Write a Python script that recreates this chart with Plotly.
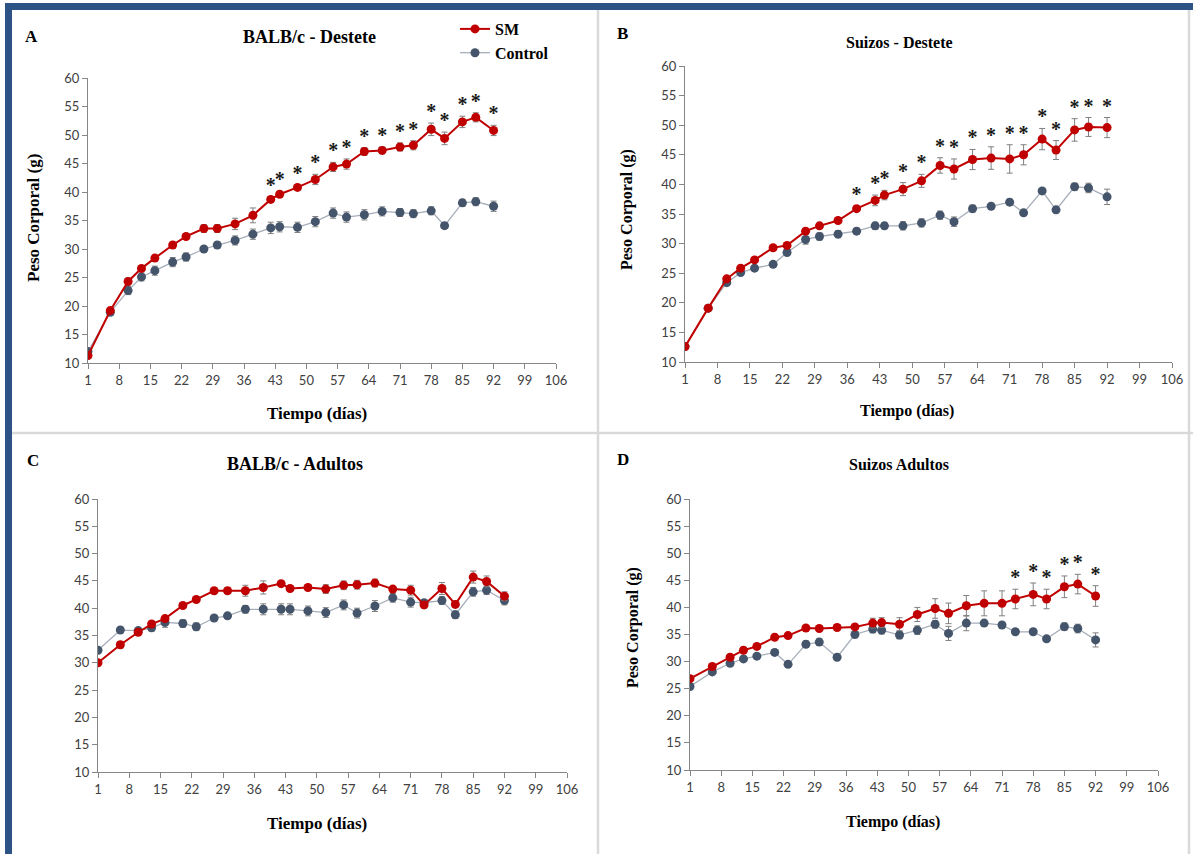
import plotly.graph_objects as go

# ---------------- data ----------------
days = [1, 6, 10, 13, 16, 20, 23, 27, 30, 34, 38, 42, 44, 48, 52, 56, 59, 63, 67, 71, 74, 78, 81, 85, 88, 92]
x_ticks = [1, 8, 15, 22, 29, 36, 43, 50, 57, 64, 71, 78, 85, 92, 99, 106]
y_ticks = [10, 15, 20, 25, 30, 35, 40, 45, 50, 55, 60]

# A: BALB/c - Destete
A_sm = [11.3, 19.2, 24.3, 26.6, 28.4, 30.7, 32.2, 33.6, 33.6, 34.4, 35.9, 38.7, 39.6, 40.8, 42.2, 44.4, 44.9, 47.1, 47.3, 47.9, 48.2, 51.0, 49.4, 52.3, 53.1, 50.8]
A_sm_err = [0.5, 0.5, 0.6, 0.5, 0.5, 0.5, 0.5, 0.7, 0.7, 1.0, 1.3, 0.5, 0.5, 0.5, 0.9, 0.8, 0.9, 0.7, 0.6, 0.7, 0.8, 1.1, 1.1, 1.0, 0.8, 0.9]
A_ctrl = [12.0, 18.9, 22.7, 25.1, 26.2, 27.7, 28.6, 30.0, 30.7, 31.5, 32.6, 33.7, 33.9, 33.8, 34.8, 36.3, 35.6, 36.0, 36.6, 36.4, 36.2, 36.7, 34.1, 38.1, 38.3, 37.5]
A_ctrl_err = [0.4, 0.5, 0.7, 0.7, 0.8, 0.8, 0.7, 0.4, 0.5, 0.8, 0.9, 1.0, 0.9, 0.9, 0.9, 0.9, 0.9, 0.9, 0.8, 0.7, 0.7, 0.7, 0.5, 0.6, 0.7, 0.9]
A_sig = [42, 44, 48, 52, 56, 59, 63, 67, 71, 74, 78, 81, 85, 88, 92]

# B: Suizos - Destete
B_sm = [12.6, 19.1, 24.05, 25.85, 27.25, 29.3, 29.7, 32.1, 33.0, 33.9, 35.9, 37.3, 38.2, 39.2, 40.6, 43.2, 42.6, 44.2, 44.45, 44.3, 45.0, 47.65, 45.8, 49.2, 49.7, 49.6]
B_sm_err = [0.3, 0.3, 0.4, 0.4, 0.4, 0.4, 0.4, 0.4, 0.4, 0.4, 0.4, 0.9, 0.8, 1.1, 1.1, 1.3, 1.7, 1.7, 1.9, 2.4, 1.7, 1.8, 1.6, 1.9, 1.6, 1.7]
B_ctrl = [12.6, 19.1, 23.4, 25.1, 25.85, 26.5, 28.5, 30.7, 31.2, 31.6, 32.1, 33.0, 33.0, 33.0, 33.5, 34.8, 33.7, 35.9, 36.3, 37.0, 35.2, 38.9, 35.7, 39.6, 39.4, 37.9]
B_ctrl_err = [0.3, 0.3, 0.4, 0.4, 0.4, 0.4, 0.5, 0.8, 0.6, 0.6, 0.5, 0.6, 0.5, 0.7, 0.7, 0.7, 0.8, 0.6, 0.4, 0.5, 0.4, 0.4, 0.5, 0.6, 0.8, 1.3]
B_sig = [38, 42, 44, 48, 52, 56, 59, 63, 67, 71, 74, 78, 81, 85, 88, 92]

# C: BALB/c - Adultos
C_sm = [30.0, 33.3, 35.6, 37.1, 38.1, 40.5, 41.6, 43.2, 43.2, 43.2, 43.8, 44.5, 43.6, 43.8, 43.5, 44.2, 44.3, 44.6, 43.5, 43.3, 40.6, 43.6, 40.7, 45.7, 44.9, 42.2]
C_sm_err = [0.4, 0.6, 0.4, 0.4, 0.4, 0.4, 0.4, 0.5, 0.5, 1.0, 1.2, 0.4, 0.5, 0.5, 0.8, 0.8, 0.8, 0.7, 0.5, 0.9, 0.6, 1.1, 0.6, 1.1, 1.0, 0.8]
C_ctrl = [32.3, 36.0, 35.9, 36.4, 37.4, 37.2, 36.6, 38.2, 38.6, 39.8, 39.8, 39.8, 39.8, 39.5, 39.2, 40.6, 39.1, 40.4, 41.9, 41.1, 41.0, 41.4, 38.8, 43.0, 43.3, 41.4]
C_ctrl_err = [0.3, 0.3, 0.4, 0.6, 0.9, 0.7, 0.7, 0.4, 0.5, 0.7, 1.0, 1.0, 1.0, 0.9, 0.9, 0.9, 0.9, 1.0, 0.8, 0.9, 0.4, 0.7, 0.7, 0.8, 0.8, 0.8]
C_sig = []

# D: Suizos Adultos
D_sm = [26.85, 29.1, 30.8, 32.1, 32.8, 34.5, 34.8, 36.2, 36.1, 36.3, 36.4, 37.1, 37.2, 36.9, 38.7, 39.8, 38.9, 40.3, 40.75, 40.75, 41.55, 42.4, 41.55, 43.8, 44.3, 42.1]
D_sm_err = [0.3, 0.3, 0.3, 0.3, 0.3, 0.3, 0.3, 0.3, 0.3, 0.3, 0.4, 0.9, 0.9, 1.2, 1.3, 1.8, 1.9, 1.9, 2.3, 2.3, 1.8, 2.1, 1.8, 2.0, 1.8, 1.9]
D_ctrl = [25.4, 28.1, 29.7, 30.5, 31.0, 31.7, 29.5, 33.2, 33.6, 30.8, 35.0, 36.0, 35.8, 34.9, 35.8, 36.9, 35.2, 37.1, 37.1, 36.75, 35.5, 35.5, 34.2, 36.45, 36.1, 34.0]
D_ctrl_err = [0.3, 0.3, 0.3, 0.3, 0.3, 0.5, 0.3, 0.6, 0.6, 0.3, 0.3, 0.7, 0.7, 0.7, 0.8, 0.7, 1.3, 1.4, 0.4, 0.5, 0.4, 0.4, 0.4, 0.7, 0.8, 1.3]
D_sig = [74, 78, 81, 85, 88, 92]

titles = ["BALB/c - Destete", "Suizos - Destete", "BALB/c - Adultos", "Suizos Adultos"]
letters = ["A", "B", "C", "D"]
series_names = ["SM", "Control"]
x_title = "Tiempo (días)"
y_title = "Peso Corporal (g)"

# ---------------- styling / layout ----------------
W, H = 1193, 854
SERIF = "Liberation Serif, DejaVu Serif, serif"
SANS = "Lato, Open Sans, sans-serif"
RED = "#C00000"
SLATE = "#44546A"
CTRL_LINE = "#A6AEBA"
ERR = "#7F7F7F"
AXIS = "#868686"

def px_x(p):
    return p / W

def px_y(p):
    return 1 - p / H

# panel plotting areas (pixels: left, right, top, bottom)
areas = [
    (88, 556, 78, 363),
    (685, 1172, 66, 362),
    (98, 567, 499, 772),
    (690, 1158, 499, 770),
]
panels = [
    (A_sm, A_sm_err, A_ctrl, A_ctrl_err, A_sig),
    (B_sm, B_sm_err, B_ctrl, B_ctrl_err, B_sig),
    (C_sm, C_sm_err, C_ctrl, C_ctrl_err, C_sig),
    (D_sm, D_sm_err, D_ctrl, D_ctrl_err, D_sig),
]

fig = go.Figure()
layout_axes = {}
for i, (area, data) in enumerate(zip(areas, panels)):
    n = "" if i == 0 else str(i + 1)
    xa, ya = "x" + n, "y" + n
    sm, sm_err, ctrl, ctrl_err, sig = data
    fig.add_trace(go.Scatter(
        x=days, y=ctrl, mode="lines+markers", name=series_names[1],
        xaxis=xa, yaxis=ya, showlegend=False,
        line=dict(color=CTRL_LINE, width=1.3),
        marker=dict(color=SLATE, size=9),
        error_y=dict(type="data", array=ctrl_err, color=ERR, thickness=1, width=3),
    ))
    fig.add_trace(go.Scatter(
        x=days, y=sm, mode="lines+markers", name=series_names[0],
        xaxis=xa, yaxis=ya, showlegend=False,
        line=dict(color=RED, width=2),
        marker=dict(color=RED, size=9),
        error_y=dict(type="data", array=sm_err, color=ERR, thickness=1, width=3),
    ))
    if sig:
        sx, sy = [], []
        for d, v, e in zip(days, sm, sm_err):
            if d in sig:
                sx.append(d)
                sy.append(v + e)
        fig.add_trace(go.Scatter(
            x=sx, y=sy, mode="text", text=["<b>*</b>"] * len(sx),
            textposition="top center", xaxis=xa, yaxis=ya, showlegend=False,
            textfont=dict(family=SERIF, size=20, color="#1a1a1a"),
            hoverinfo="skip", cliponaxis=False,
        ))
    l, r, t, b = area
    key = "" if i == 0 else str(i + 1)
    layout_axes["xaxis" + key] = dict(
        domain=[px_x(l), px_x(r)], anchor=ya, range=[1, 106],
        tickmode="array", tickvals=x_ticks, ticks="outside", ticklen=5,
        tickcolor=AXIS, showline=True, linecolor=AXIS, linewidth=1.3,
        showgrid=False, zeroline=False, automargin=False,
        tickfont=dict(family=SANS, size=13, color="#404040"),
    )
    layout_axes["yaxis" + key] = dict(
        domain=[px_y(b), px_y(t)], anchor=xa, range=[10, 60],
        tickmode="array", tickvals=y_ticks, ticks="outside", ticklen=5,
        tickcolor=AXIS, showline=True, linecolor=AXIS, linewidth=1.3,
        showgrid=False, zeroline=False, automargin=False,
        tickfont=dict(family=SANS, size=13, color="#404040"),
    )

# legend entries (panel A)
fig.add_trace(go.Scatter(x=[None], y=[None], mode="lines+markers", name="<b>%s</b>" % series_names[0],
                         line=dict(color=RED, width=2), marker=dict(color=RED, size=9)))
fig.add_trace(go.Scatter(x=[None], y=[None], mode="lines+markers", name="<b>%s</b>" % series_names[1],
                         line=dict(color=CTRL_LINE, width=1.3), marker=dict(color=SLATE, size=9)))

annotations = []
# panel letters
letter_pos = [(31, 36), (623, 33), (33, 460), (623, 459)]
for s, (x, y) in zip(letters, letter_pos):
    annotations.append(dict(text="<b>%s</b>" % s, x=px_x(x), y=px_y(y), xref="paper", yref="paper",
                            showarrow=False, xanchor="center", yanchor="middle",
                            font=dict(family=SERIF, size=17, color="black")))
# panel titles
title_pos = [(309, 37), (899, 42), (295, 464), (899, 464)]
title_sizes = [18, 16, 18, 16]
for s, (x, y), fs in zip(titles, title_pos, title_sizes):
    annotations.append(dict(text="<b>%s</b>" % s, x=px_x(x), y=px_y(y), xref="paper", yref="paper",
                            showarrow=False, xanchor="center", yanchor="middle",
                            font=dict(family=SERIF, size=fs, color="black")))
# x axis titles
xt_pos = [(317, 413), (907, 411), (317, 823), (893, 822)]
xt_sizes = [17, 16, 17, 16]
for (x, y), fs in zip(xt_pos, xt_sizes):
    annotations.append(dict(text="<b>%s</b>" % x_title, x=px_x(x), y=px_y(y), xref="paper", yref="paper",
                            showarrow=False, xanchor="center", yanchor="middle",
                            font=dict(family=SERIF, size=fs, color="black")))
# y axis titles (no title in panel C)
yt_pos = [(33, 218), (627, 210), (633, 628)]
yt_sizes = [17, 16, 16]
for (x, y), fs in zip(yt_pos, yt_sizes):
    annotations.append(dict(text="<b>%s</b>" % y_title, x=px_x(x), y=px_y(y), xref="paper", yref="paper",
                            showarrow=False, xanchor="center", yanchor="middle", textangle=-90,
                            font=dict(family=SERIF, size=fs, color="black")))

shapes = [
    # blue frame
    dict(type="rect", xref="paper", yref="paper", x0=px_x(5), x1=px_x(12), y0=0, y1=px_y(3),
         fillcolor="#2C5286", line=dict(width=0), layer="above"),
    dict(type="rect", xref="paper", yref="paper", x0=px_x(5), x1=1, y0=px_y(10), y1=px_y(3),
         fillcolor="#2C5286", line=dict(width=0), layer="above"),
    # panel dividers
    dict(type="line", xref="paper", yref="paper", x0=px_x(12), x1=1, y0=px_y(433), y1=px_y(433),
         line=dict(color="#D9D9D9", width=2.5)),
    dict(type="line", xref="paper", yref="paper", x0=px_x(598), x1=px_x(598), y0=0, y1=px_y(10),
         line=dict(color="#D9D9D9", width=2.5)),
    dict(type="line", xref="paper", yref="paper", x0=px_x(1189), x1=px_x(1189), y0=0, y1=px_y(10),
         line=dict(color="#D9D9D9", width=2.5)),
]

fig.update_layout(
    width=W, height=H,
    margin=dict(l=0, r=0, t=0, b=0, pad=0, autoexpand=False),
    paper_bgcolor="white", plot_bgcolor="white",
    showlegend=True,
    legend=dict(x=px_x(455), y=px_y(12), xanchor="left", yanchor="top",
                bgcolor="rgba(0,0,0,0)", itemwidth=30, tracegroupgap=0,
                font=dict(family=SERIF, size=16, color="black")),
    annotations=annotations,
    shapes=shapes,
    **layout_axes,
)

fig.write_html(
    "out.html",
    config={"displayModeBar": False},
    post_script=(
        "document.body.style.margin='0';"
        "document.body.style.overflow='hidden';"
    ),
)
